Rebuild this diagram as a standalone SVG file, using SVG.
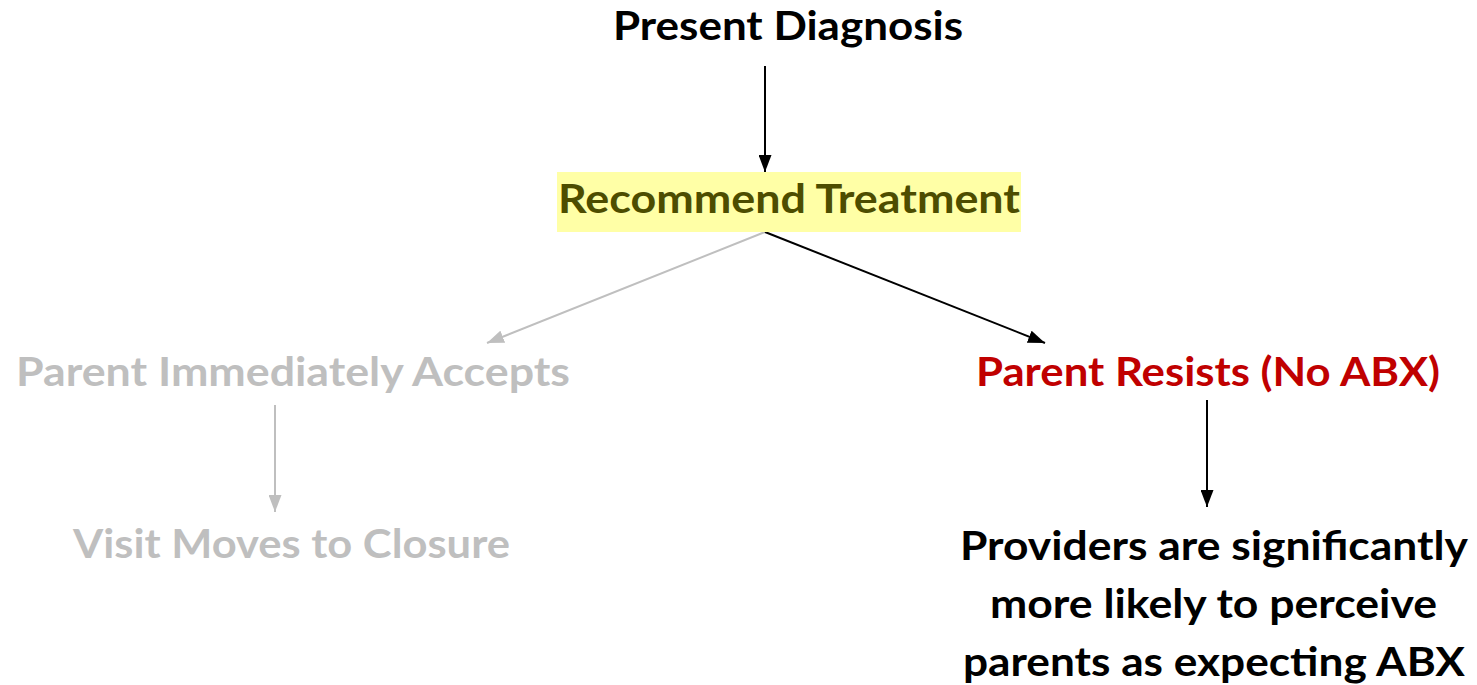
<svg xmlns="http://www.w3.org/2000/svg" width="1477" height="685" viewBox="0 0 1477 685">
  <style>
    .t { font-family: Lato, "Open Sans", "Liberation Sans", sans-serif; font-weight: bold; font-size: 41px; }
    .blk { fill: #000000; }
    .gry { fill: #bfbfbf; }
    .red { fill: #c00000; }
    .olv { fill: #4d4d00; }
    .cb { stroke: #000000; stroke-width: 2; fill: none; }
    .cg { stroke: #bfbfbf; stroke-width: 2; fill: none; }
  </style>
  <defs>
    <marker id="ab" markerUnits="userSpaceOnUse" markerWidth="17" markerHeight="13" refX="17" refY="6.5" orient="auto">
      <path d="M0,0 L17,6.5 L0,13 z" fill="#000000"/>
    </marker>
    <marker id="ag" markerUnits="userSpaceOnUse" markerWidth="17" markerHeight="13" refX="17" refY="6.5" orient="auto">
      <path d="M0,0 L17,6.5 L0,13 z" fill="#bfbfbf"/>
    </marker>
  </defs>
  <rect width="1477" height="685" fill="#ffffff"/>

  <g id="connectors">
    <line class="cb" x1="765" y1="66" x2="765" y2="172" marker-end="url(#ab)"/>
    <line class="cg" x1="765" y1="232" x2="487" y2="343" marker-end="url(#ag)"/>
    <line class="cb" x1="765" y1="232" x2="1045" y2="343" marker-end="url(#ab)"/>
    <line class="cg" x1="275" y1="405" x2="275" y2="512" marker-end="url(#ag)"/>
    <line class="cb" x1="1207" y1="400" x2="1207" y2="507" marker-end="url(#ab)"/>
  </g>

  <g id="present-diagnosis">
    <text class="t blk" x="613" y="40" textLength="350" lengthAdjust="spacingAndGlyphs">Present Diagnosis</text>
  </g>

  <g id="recommend-treatment">
    <rect x="557" y="172" width="464" height="60" fill="#ffffa6"/>
    <text class="t olv" x="558" y="213" textLength="462" lengthAdjust="spacingAndGlyphs">Recommend Treatment</text>
  </g>

  <g id="parent-accepts">
    <text class="t gry" x="16" y="386" textLength="554" lengthAdjust="spacingAndGlyphs">Parent Immediately Accepts</text>
  </g>

  <g id="visit-closure">
    <text class="t gry" x="73" y="558" textLength="437" lengthAdjust="spacingAndGlyphs">Visit Moves to Closure</text>
  </g>

  <g id="parent-resists">
    <text class="t red" x="976" y="386" textLength="464" lengthAdjust="spacingAndGlyphs">Parent Resists (No ABX)</text>
  </g>

  <g id="providers">
    <text class="t blk" x="960" y="560" textLength="508" lengthAdjust="spacingAndGlyphs">Providers are significantly</text>
    <text class="t blk" x="990" y="618" textLength="447" lengthAdjust="spacingAndGlyphs">more likely to perceive</text>
    <text class="t blk" x="963" y="676" textLength="502" lengthAdjust="spacingAndGlyphs">parents as expecting ABX</text>
  </g>
</svg>
